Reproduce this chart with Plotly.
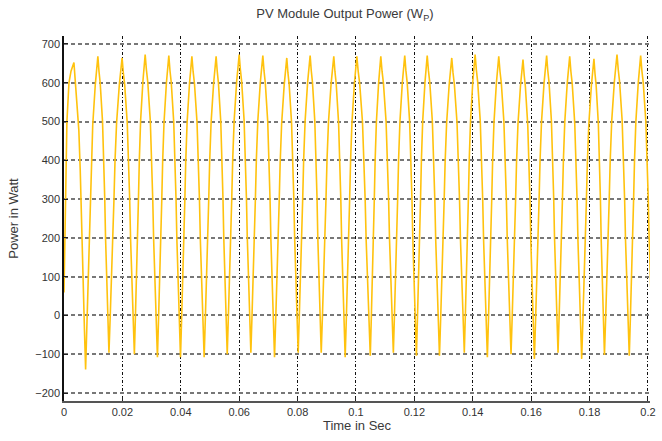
import plotly.graph_objects as go

# ---- data ----
peak_t = [0.0034, 0.0116, 0.0199, 0.0278, 0.0359, 0.0438, 0.0521, 0.0600, 0.0681,
          0.0763, 0.0843, 0.0924, 0.1003, 0.1085, 0.1167, 0.1244, 0.1328, 0.1408,
          0.1489, 0.1572, 0.1653, 0.1732, 0.1815, 0.1894, 0.1975]
peak_v = [652, 668, 664, 673, 670, 668, 668, 673, 670, 664, 670, 668, 668, 668,
          670, 670, 664, 673, 668, 660, 670, 668, 662, 673, 670]
trough_t = [0.0074, 0.0154, 0.0241, 0.0320, 0.0399, 0.0480, 0.0559, 0.0640, 0.0721,
            0.0802, 0.0881, 0.0963, 0.1049, 0.1128, 0.1207, 0.1286, 0.1371, 0.1450,
            0.1531, 0.1611, 0.1692, 0.1773, 0.1851, 0.1936, 0.2017]
trough_v = [-139, -96, -100, -108, -108, -108, -100, -96, -108, -96, -96, -108,
            -104, -96, -104, -104, -96, -108, -100, -112, -96, -112, -102, -104, -100]
# start of the trace (before first peak)
start_t = [0.0, 0.0002, 0.0007, 0.0010, 0.0017, 0.0024]
start_v = [59, 150, 300, 500, 600, 630]
# shape of an edge between trough and peak (time fraction, amplitude fraction)
edge_tf = [0.10, 0.21, 0.31, 0.38, 0.46, 0.58, 0.79, 0.90]
edge_af = [0.13, 0.26, 0.39, 0.52, 0.65, 0.78, 0.91, 0.95]

x_ticks = [0, 0.02, 0.04, 0.06, 0.08, 0.1, 0.12, 0.14, 0.16, 0.18, 0.2]
x_labels = ["0", "0.02", "0.04", "0.06", "0.08", "0.1", "0.12", "0.14", "0.16", "0.18", "0.2"]
y_ticks = [-200, -100, 0, 100, 200, 300, 400, 500, 600, 700]

# ---- build the polyline ----
t = list(start_t)
v = list(start_v)
for i in range(len(peak_t)):
    t.append(peak_t[i]); v.append(peak_v[i])
    t1, v1 = peak_t[i], peak_v[i]
    t2, v2 = trough_t[i], trough_v[i]
    for tf, af in zip(reversed(edge_tf), reversed(edge_af)):
        t.append(t2 - tf * (t2 - t1)); v.append(v2 + af * (v1 - v2))
    t.append(t2); v.append(v2)
    if i + 1 < len(peak_t):
        t3, v3 = peak_t[i + 1], peak_v[i + 1]
        for tf, af in zip(edge_tf, edge_af):
            t.append(t2 + tf * (t3 - t2)); v.append(v2 + af * (v3 - v2))

font_fam = "Liberation Sans, Arial, sans-serif"
fig = go.Figure()
fig.add_trace(go.Scatter(x=t, y=v, mode="lines",
                         line=dict(color="#FFC20E", width=1.6), showlegend=False))

fig.update_layout(
    width=662, height=441,
    margin=dict(l=64, r=6, t=36, b=40),
    paper_bgcolor="white", plot_bgcolor="white",
    font=dict(family=font_fam, size=11, color="#333333"),
    title=dict(text="PV Module Output Power (W<sub>P</sub>)", x=0.521, xanchor="center",
               y=0.97, yanchor="middle", font=dict(size=13, color="#3a3a3a")),
    xaxis=dict(range=[0, 0.2007], tickvals=x_ticks, ticktext=x_labels,
               ticklabeloverflow="allow",
               showgrid=True, gridcolor="#111111", gridwidth=1.2,
               griddash="3px,2px,1px,2px",
               zeroline=False, showline=True, linecolor="#555555", linewidth=2,
               ticks="inside", ticklen=4, tickcolor="#222222",
               title=dict(text="Time in Sec", font=dict(size=13, color="#3a3a3a"), standoff=4)),
    yaxis=dict(range=[-220.6, 720.6], tickvals=y_ticks,
               showgrid=True, gridcolor="#777777", gridwidth=2, griddash="4px,3px",
               zeroline=False, showline=True, linecolor="#111111", linewidth=1.5,
               ticks="inside", ticklen=4, tickcolor="#222222",
               title=dict(text="Power in Watt", font=dict(size=13, color="#3a3a3a"), standoff=14)),
)
fig.write_html("out.html")
